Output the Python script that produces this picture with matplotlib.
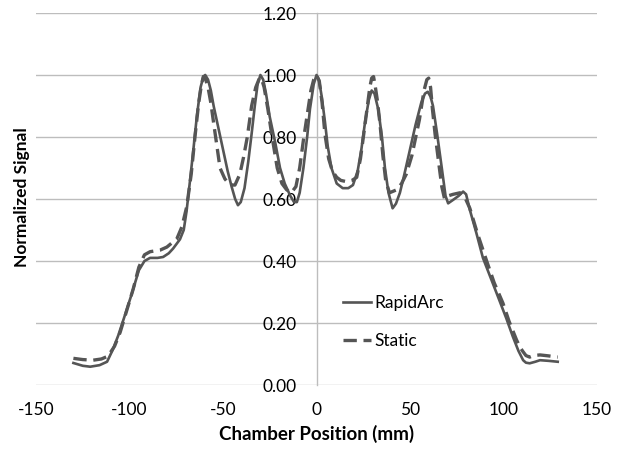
import numpy as np
import matplotlib.pyplot as plt

# chamber profile along the transverse axis: (position mm, normalized signal)
rapidarc_x = [-130, -125, -121, -116, -112, -109, -106, -103, -99, -95, -92, -89, -85, -82,
              -79, -76.7, -73, -71, -69.5, -68, -66, -64, -62, -60.5, -59.5, -58, -56.5, -55,
              -52.5, -50, -47.5, -45.4, -43.5, -42, -40.5, -38.5, -36.5, -34.7, -33, -31.5, -30,
              -28.5, -27, -25, -22, -19.5, -17, -14, -12, -10.5, -9, -7, -5, -3.5, -1.5, 0,
              1.3, 2.8, 4.5, 6, 8, 10.8, 14, 17, 19.5, 22, 24, 26, 28, 29.5, 31, 33, 35, 36.6,
              38.5, 40.7, 42.5, 44.6, 47, 50, 53, 56, 58, 59.5, 61, 62.3, 64.5, 67, 69, 70.4,
              73, 76, 78.4, 80, 82, 85.5, 89, 93.5, 98, 101.5, 105, 108, 110.5, 112, 114, 117,
              119.5, 124, 129]
rapidarc_y = [0.071, 0.062, 0.059, 0.064, 0.075, 0.113, 0.16, 0.215, 0.29, 0.37, 0.40, 0.41, 0.41, 0.413,
              0.425, 0.44, 0.47, 0.50, 0.56, 0.64, 0.75, 0.866, 0.96, 0.995, 1.00, 0.985, 0.95, 0.90,
              0.83, 0.76, 0.69, 0.64, 0.60, 0.58, 0.59, 0.635, 0.72, 0.81, 0.90, 0.97, 1.00,
              0.985, 0.94, 0.865, 0.78, 0.70, 0.65, 0.61, 0.59, 0.59, 0.62, 0.70, 0.80, 0.89, 0.97, 1.00,
              0.985, 0.93, 0.85, 0.77, 0.70, 0.65, 0.635, 0.635, 0.645, 0.69, 0.76, 0.85, 0.92, 0.95, 0.94, 0.89, 0.80, 0.70,
              0.62, 0.57, 0.585, 0.62, 0.68, 0.76, 0.84, 0.91, 0.94, 0.946, 0.93, 0.90, 0.81, 0.70, 0.61, 0.586,
              0.597, 0.61, 0.624, 0.615, 0.565, 0.49, 0.41, 0.34, 0.27, 0.215, 0.156, 0.11, 0.08, 0.072, 0.07, 0.075,
              0.08, 0.078, 0.075]

static_x = [-130, -125, -119.5, -115, -111.5, -108, -105, -102, -98, -95, -92, -89, -86, -83.7,
            -80, -77, -74.8, -72, -69.4, -67, -65, -63, -61.5, -60.5, -59.5, -58, -56.5, -55,
            -53, -51.6, -49, -47, -45, -43.6, -41, -39, -37, -34.7, -32.5, -30.5, -29.5, -28,
            -26, -24, -21, -18.5, -16, -13.5, -11, -9, -7, -5, -3, -1.5, 0, 1.5, 3, 4.5, 6.5,
            8.5, 10.8, 13, 16, 19, 21.5, 23.5, 25.5, 27, 28.5, 29.5, 30.5, 31.5, 32.5, 34, 35.5,
            37, 39, 41, 43, 45.5, 48, 51, 55, 57.5, 59, 60, 61, 62, 63.4, 65.5, 67, 68.5, 70.3,
            73, 76.7, 79, 82, 86, 91, 95, 99.7, 103, 107, 109, 110.5, 112, 114, 116, 119.5, 124, 129]
static_y = [0.086, 0.082, 0.08, 0.084, 0.093, 0.125, 0.17, 0.23, 0.31, 0.38, 0.42, 0.43, 0.433, 0.435,
            0.445, 0.46, 0.47, 0.51, 0.575, 0.68, 0.80, 0.91, 0.97, 0.995, 0.99, 0.96, 0.91, 0.845,
            0.76, 0.70, 0.665, 0.65, 0.645, 0.645, 0.68, 0.735, 0.80, 0.90, 0.96, 0.99, 0.99, 0.96,
            0.89, 0.81, 0.70, 0.65, 0.63, 0.62, 0.64, 0.70, 0.79, 0.87, 0.95, 0.985, 1.00, 0.98, 0.91, 0.81, 0.73,
            0.69, 0.67, 0.66, 0.656, 0.66, 0.67, 0.73, 0.82, 0.89, 0.96, 0.99, 0.995, 0.96, 0.92, 0.84, 0.74,
            0.66, 0.62, 0.625, 0.63, 0.65, 0.68, 0.74, 0.855, 0.95, 0.985, 0.99, 0.96, 0.89, 0.81, 0.71, 0.64, 0.60, 0.61,
            0.615, 0.62, 0.61, 0.57, 0.49, 0.40, 0.33, 0.264, 0.205, 0.145, 0.12, 0.107, 0.095, 0.09, 0.095, 0.097, 0.094, 0.09]

x_ticks = [-150, -100, -50, 0, 50, 100, 150]
y_ticks = [0.0, 0.2, 0.4, 0.6, 0.8, 1.0, 1.2]

plt.rcParams['font.family'] = ['Lato', 'DejaVu Sans']
plt.rcParams['axes.unicode_minus'] = False

line_col = '#555555'
grid_col = '#bdbdbd'

fig = plt.figure(figsize=(6.19, 4.51), dpi=100)
ax = fig.add_axes([36 / 619, 1 - 385 / 451, 561 / 619, 372 / 451])

ax.plot(rapidarc_x, rapidarc_y, color=line_col, lw=1.9, solid_joinstyle='round',
        label='RapidArc', zorder=4)
ax.plot(static_x, static_y, color=line_col, lw=2.4, dashes=(4, 2),
        dash_joinstyle='round', label='Static', zorder=3)

ax.set_xlim(-150, 150)
ax.set_ylim(0, 1.2)
ax.set_xticks(x_ticks)
ax.set_yticks(y_ticks)
ax.set_yticklabels([f'{v:.2f}' for v in y_ticks])

# horizontal gridlines only, y axis sits at x = 0
ax.grid(axis='y', color=grid_col, lw=1.0)
ax.set_axisbelow(True)
for s in ['top', 'right', 'bottom']:
    ax.spines[s].set_visible(False)
ax.spines['left'].set_position(('data', 0))
ax.spines['left'].set_color(grid_col)
ax.spines['left'].set_linewidth(1.0)
ax.tick_params(axis='both', length=0, labelsize=12.5, colors='black')
ax.tick_params(axis='y', pad=14)
ax.tick_params(axis='x', pad=12)

ax.set_xlabel('Chamber Position (mm)', fontsize=13.5, fontweight='bold', labelpad=5)
fig.text(22 / 619, 1 - 197 / 451, 'Normalized Signal', rotation=90, fontsize=12.5,
         fontweight='bold', ha='center', va='center')

leg = ax.legend(loc='upper left', bbox_to_anchor=(300 / 561, (385 - 288) / 372),
                frameon=False, fontsize=12.5, handlelength=1.6, handletextpad=0.2,
                labelspacing=1.25, borderaxespad=0)

fig.savefig('out.png', dpi=100)
